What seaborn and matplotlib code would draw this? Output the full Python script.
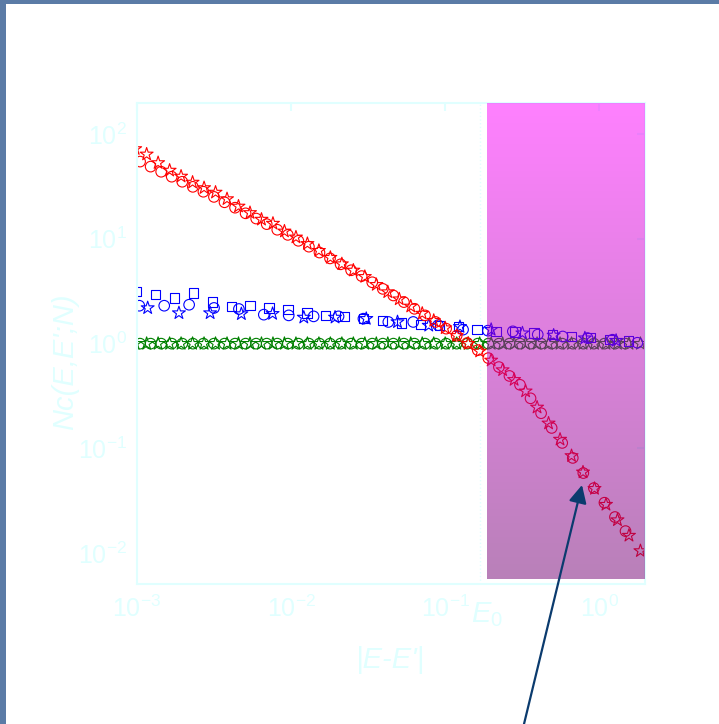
import numpy as np
import matplotlib
matplotlib.use("Agg")
import matplotlib.pyplot as plt
from matplotlib.patches import Rectangle, FancyArrowPatch
from matplotlib.ticker import NullLocator
import seaborn as sns

# |E-E'| sampling grids (shared by the red and green ensembles)
e_grid_circ = [0.001047, 0.001226, 0.001435, 0.001680, 0.001967, 0.002303, 0.002697, 0.003157,
               0.003697, 0.004328, 0.005067, 0.005933, 0.006946, 0.008133, 0.009522, 0.01115,
               0.01305, 0.01528, 0.01789, 0.02095, 0.02452, 0.02871, 0.03362, 0.03936, 0.04608,
               0.05395, 0.06317, 0.07396, 0.08659, 0.1014, 0.1187, 0.1390, 0.1627, 0.1905,
               0.2231, 0.2612, 0.3058, 0.3580, 0.4192, 0.4908, 0.5746, 0.6728, 0.7877, 0.9222,
               1.080, 1.264, 1.480]
e_grid_star = [0.000973, 0.001155, 0.001371, 0.001628, 0.001932, 0.002294, 0.002724, 0.003233,
               0.003839, 0.004557, 0.005410, 0.006423, 0.007626, 0.009053, 0.01075, 0.01276,
               0.01515, 0.01798, 0.02135, 0.02535, 0.03009, 0.03573, 0.04241, 0.05035, 0.05978,
               0.07097, 0.08426, 0.1000, 0.1188, 0.1410, 0.1674, 0.1987, 0.2359, 0.2801, 0.3325,
               0.3947, 0.4686, 0.5564, 0.6605, 0.7841, 0.9309, 1.105, 1.312, 1.558, 1.849]

# Red ensemble: Nc(E,E';N)
nc_red_circ = [54.5, 48.8, 43.6, 39.1, 35.0, 31.3, 28.1, 25.1, 22.3, 19.8, 17.5, 15.6, 13.8, 12.2,
               10.9, 9.57, 8.41, 7.39, 6.50, 5.71, 5.01, 4.41, 3.85, 3.33, 2.88, 2.49, 2.15, 1.86,
               1.61, 1.39, 1.19, 1.015, 0.867, 0.728, 0.598, 0.492, 0.405, 0.301, 0.217, 0.157,
               0.113, 0.0813, 0.0583, 0.0419, 0.0304, 0.0222, 0.0163]
nc_red_star = [72.1, 64.0, 53.0, 44.9, 39.4, 34.5, 30.6, 27.7, 24.0, 20.4, 17.7, 15.3, 14.0, 11.8,
               10.35, 8.97, 7.71, 6.62, 5.75, 5.00, 4.35, 3.65, 3.11, 2.66, 2.27, 1.94, 1.66, 1.41,
               1.19, 1.00, 0.845, 0.693, 0.561, 0.453, 0.352, 0.247, 0.174, 0.122, 0.0851, 0.0594,
               0.0414, 0.0292, 0.0208, 0.0148, 0.01055]

# Green ensemble: flat at unity
nc_green_circ = [1.0, 1.0, 1.0, 1.0, 1.0, 1.0, 1.0, 1.0, 1.0, 1.0, 1.0, 1.0, 1.0, 1.0, 1.0, 1.0,
                 1.0, 1.0, 1.0, 1.0, 1.0, 1.0, 1.0, 1.0, 1.0, 1.0, 1.0, 1.0, 1.0, 1.0, 1.0, 1.0,
                 1.0, 1.0, 1.0, 1.0, 1.0, 1.0, 1.0, 1.0, 1.0, 1.0, 1.0, 1.0, 1.0, 1.0, 1.0]
nc_green_star = [1.0, 1.0, 1.0, 1.0, 1.0, 1.0, 1.0, 1.0, 1.0, 1.0, 1.0, 1.0, 1.0, 1.0, 1.0, 1.0,
                 1.0, 1.0, 1.0, 1.0, 1.0, 1.0, 1.0, 1.0, 1.0, 1.0, 1.0, 1.0, 1.0, 1.0, 1.0, 1.0,
                 1.0, 1.0, 1.0, 1.0, 1.0, 1.0, 1.0, 1.0, 1.0, 1.0, 1.0, 1.0, 1.0]

# Blue ensemble, three sizes on their own grids
e_blue_sq = [0.000995, 0.001320, 0.001751, 0.002323, 0.003082, 0.004089, 0.005424, 0.007196,
             0.009546, 0.01266, 0.01680, 0.02229, 0.02957, 0.03922, 0.05203, 0.06903, 0.09157,
             0.1215, 0.1612, 0.2138, 0.2836, 0.3762, 0.4991, 0.6621, 0.8784, 1.165, 1.546]
nc_blue_sq = [3.15, 2.93, 2.72, 3.04, 2.49, 2.26, 2.30, 2.19, 2.11, 1.96, 1.86, 1.82, 1.73, 1.66,
              1.57, 1.52, 1.48, 1.46, 1.36, 1.31, 1.29, 1.26, 1.22, 1.17, 1.14, 1.09, 1.06]
e_blue_circ = [0.001035, 0.001502, 0.002179, 0.003161, 0.004585, 0.006653, 0.009651, 0.01400,
               0.02032, 0.02947, 0.04276, 0.06204, 0.09000, 0.1306, 0.1894, 0.2748, 0.3987,
               0.5785, 0.8393, 1.218, 1.767]
nc_blue_circ = [2.30, 2.30, 2.35, 2.19, 2.14, 1.89, 1.86, 1.82, 1.82, 1.73, 1.61, 1.61, 1.50,
                1.36, 1.33, 1.31, 1.22, 1.17, 1.13, 1.09, 1.02]
e_blue_star = [0.001173, 0.001871, 0.002983, 0.004756, 0.007584, 0.01209, 0.01929, 0.03075,
               0.04904, 0.07820, 0.1247, 0.1988, 0.3171, 0.5056, 0.8062, 1.286]
nc_blue_star = [2.19, 1.96, 1.96, 1.92, 1.93, 1.78, 1.78, 1.73, 1.61, 1.49, 1.45, 1.36, 1.26,
                1.20, 1.13, 1.07]

x_ticks = [1e-3, 1e-2, 1e-1, 1e0]
y_ticks = [1e-2, 1e-1, 1e0, 1e1, 1e2]
x_lim = (1e-3, 1.98)
y_lim = (0.0051, 198.6)
e0_line = 0.169       # dotted marker of E_0
shade_from = 0.1875   # start of the highlighted band
shade_floor = 0.0057

AX_COLOR = "#E0FFFF"
RED, BLUE, GREEN = "#FF0000", "#0000FF", "#008000"

sns.set_theme(style="white")
plt.rcParams.update({
    "font.family": ["Liberation Sans", "DejaVu Sans"],
    "mathtext.fontset": "custom",
    "mathtext.rm": "Liberation Sans",
    "mathtext.it": "Liberation Sans:italic",
    "mathtext.bf": "Liberation Sans:bold",
    "axes.unicode_minus": False,
})

W, H = 719, 724
fig = plt.figure(figsize=(W / 100, H / 100), dpi=100, facecolor="#5B7BA6")
fig.add_artist(Rectangle((6 / W, 0), 1, 1 - 4 / H, transform=fig.transFigure,
                         facecolor="white", edgecolor="none", zorder=-5))

ax = fig.add_axes([137 / W, 140 / H, 508 / W, 481.3 / H])
ax.set_facecolor("white")
ax.set_xscale("log")
ax.set_yscale("log")


def markers(xs, ys, marker, color, size):
    sns.scatterplot(x=xs, y=ys, marker=marker, s=size, color=color, facecolors="none",
                    edgecolor=color, linewidth=0.8, ax=ax, legend=False, zorder=2)


markers(e_grid_circ, nc_green_circ, "o", GREEN, 58)
markers(e_grid_star, nc_green_star, "*", GREEN, 95)
markers(e_blue_sq, nc_blue_sq, "s", BLUE, 45)
markers(e_blue_circ, nc_blue_circ, "o", BLUE, 58)
markers(e_blue_star, nc_blue_star, "*", BLUE, 95)
markers(e_grid_circ, nc_red_circ, "o", RED, 58)
markers(e_grid_star, nc_red_star, "*", RED, 95)

ax.axvline(e0_line, color=AX_COLOR, ls=":", lw=1.0, zorder=1)

# translucent magenta band above E_0, fading downward
lx0, lx1 = np.log10(x_lim)
ly0, ly1 = np.log10(y_lim)
fx0 = (np.log10(shade_from) - lx0) / (lx1 - lx0)
fy0 = (np.log10(shade_floor) - ly0) / (ly1 - ly0)
t = np.linspace(0, 1, 256)[:, None]
top = np.array([1.0, 0.0, 1.0])
bot = np.array([0.45, 0.0, 0.45])
rgb = top * (1 - t) + bot * t
rgba = np.concatenate([rgb, np.full((256, 1), 0.5)], axis=1)[:, None, :]
ax.imshow(rgba, extent=[fx0, 1, fy0, 1], transform=ax.transAxes, aspect="auto",
          interpolation="bilinear", zorder=4)

ax.set_xlim(*x_lim)
ax.set_ylim(*y_lim)
ax.set_autoscale_on(False)
ax.set_xticks(x_ticks)
ax.set_yticks(y_ticks)
ax.xaxis.set_minor_locator(NullLocator())
ax.yaxis.set_minor_locator(NullLocator())
ax.tick_params(which="major", direction="in", length=6, width=1.5, color=AX_COLOR,
               labelcolor=AX_COLOR, labelsize=18, top=True, right=True)
ax.tick_params(axis="x", pad=8)
ax.tick_params(axis="y", pad=7)
for sp in ax.spines.values():
    sp.set_color(AX_COLOR)
    sp.set_linewidth(1.5)
    sp.set_visible(True)
ax.grid(False)
ax.set_xlabel("")
ax.set_ylabel("")

fig.text(391 / W, 1 - 660 / H, "|E-E'|", color=AX_COLOR, fontsize=21, style="italic",
         ha="center", va="center")
fig.text(65 / W, 1 - 362 / H, "Nc(E,E';N)", color=AX_COLOR, fontsize=21, style="italic",
         rotation=90, ha="center", va="center")
fig.text(487 / W, 1 - 600 / H, "$E_0$", color=AX_COLOR, fontsize=21, ha="center", va="top")

fig.add_artist(FancyArrowPatch((524 / W, 0.0), (582 / W, 1 - 485 / H),
                               transform=fig.transFigure, arrowstyle="-|>",
                               mutation_scale=27, lw=1.6, color="#0B3B6E",
                               shrinkA=0, shrinkB=0, zorder=10))

fig.savefig("out.png", dpi=100, facecolor=fig.get_facecolor())
